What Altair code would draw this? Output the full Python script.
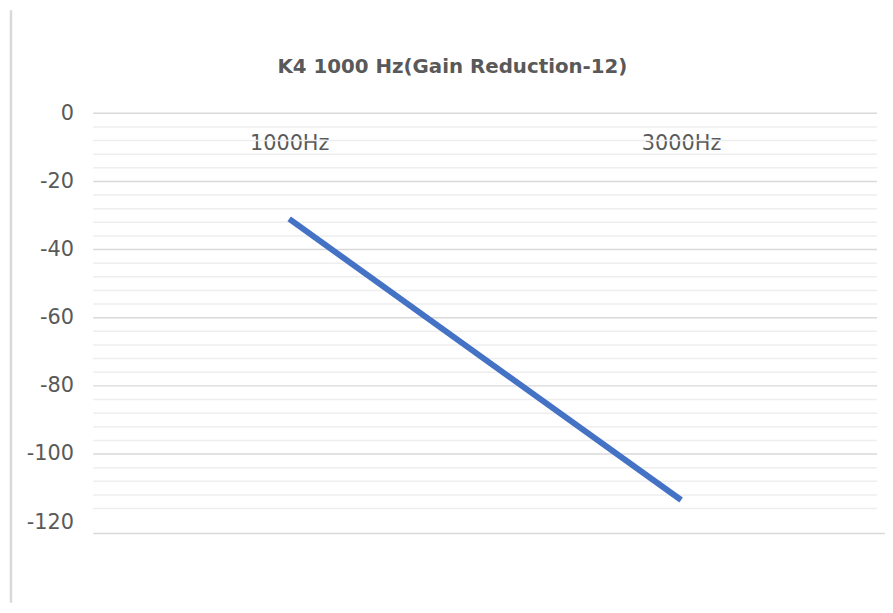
import altair as alt
import pandas as pd

# ---- data ----
categories = ["1000Hz", "3000Hz"]
values = [-31, -113.5]
y_tick_values = [0, -20, -40, -60, -80, -100, -120]
major_grid = [0, -20, -40, -60, -80, -100]
minor_grid = [-4, -8, -12, -16, -24, -28, -32, -36, -44, -48, -52, -56,
              -64, -68, -72, -76, -84, -88, -92, -96, -104, -108, -112, -116]
y_floor = [-123.3]
title_text = "K4 1000 Hz(Gain Reduction-12)"

# ---- style ----
PLOT_W = 791
PLOT_H = 424
FONT = "DejaVu Sans"
TEXT_COLOR = "#595959"

line_df = pd.DataFrame({"cat": categories, "val": values})
major_df = pd.DataFrame({"v": major_grid})
minor_df = pd.DataFrame({"v": minor_grid})
floor_df = pd.DataFrame({"v": y_floor})

yscale = alt.Scale(domain=[y_floor[0], 0], nice=False, zero=False)
yaxis = alt.Axis(values=y_tick_values, domain=False, ticks=False, grid=False,
                 labelExpr="'' + datum.value",
                 labelFontSize=21, labelFont=FONT, labelColor=TEXT_COLOR,
                 labelPadding=20, title=None)

minor = alt.Chart(minor_df).mark_rule(color="#eeeeee", strokeWidth=1.5).encode(
    y=alt.Y("v:Q", scale=yscale, axis=yaxis)
)
major = alt.Chart(major_df).mark_rule(color="#d9d9d9", strokeWidth=1.5).encode(
    y=alt.Y("v:Q", scale=yscale, axis=yaxis)
)
floor = alt.Chart(floor_df).mark_rule(color="#d9d9d9", strokeWidth=1.5).encode(
    y=alt.Y("v:Q", scale=yscale, axis=yaxis),
    x=alt.value(0), x2=alt.value(PLOT_W + 8)
)
border = alt.Chart(floor_df).mark_rule(color="#d9d9d9", strokeWidth=2.5).encode(
    x=alt.value(-83), y=alt.value(-104), y2=alt.value(PLOT_H + 70)
)
line = alt.Chart(line_df).mark_line(color="#4472C4", strokeWidth=6, strokeCap="butt").encode(
    x=alt.X("cat:N", sort=categories,
            axis=alt.Axis(orient="top", domain=False, ticks=False, grid=False,
                          labelAngle=0, labelPadding=-31, labelBaseline="middle",
                          labelFontSize=21, labelFont=FONT, labelColor=TEXT_COLOR,
                          title=None)),
    y=alt.Y("val:Q", scale=yscale, axis=yaxis),
)

chart = alt.layer(minor, major, floor, border, line).properties(
    width=PLOT_W, height=PLOT_H,
    title=alt.Title(title_text, fontSize=20, font=FONT, fontWeight="bold",
                    color=TEXT_COLOR, anchor="middle", dx=-33, offset=0,
                    baseline="alphabetic", dy=85),
    autosize=alt.AutoSizeParams(type="none"),
    padding={"left": 86, "top": 103.5, "right": 8, "bottom": 70},
).configure_view(stroke=None)

chart.save("out.html", embed_options={"renderer": "svg", "actions": False})
